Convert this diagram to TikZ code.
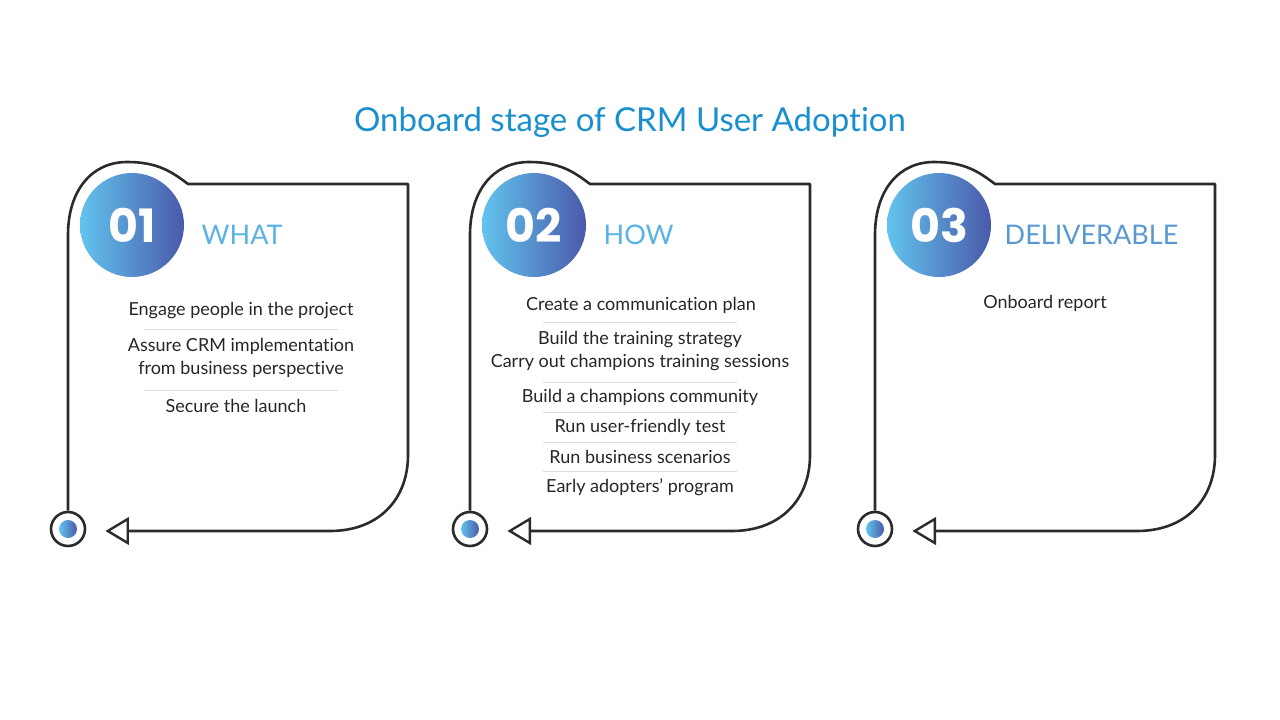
\documentclass[tikz,border=0pt]{standalone}
\usepackage{fontspec}
\setmainfont{Lato}[RawFeature={-liga;-dlig}]
\newfontfamily\numfont{Poppins}
\usetikzlibrary{shapes.geometric, positioning}
\definecolor{colorTitle}{HTML}{1A8FD0}
\definecolor{colorHead}{HTML}{5AB2E4}
\definecolor{colorLight}{HTML}{62C3EE}
\definecolor{colorDark}{HTML}{4A5AAA}
\definecolor{colorFrame}{HTML}{2B2B2B}
\definecolor{colorRule}{HTML}{DDDDDD}
\tikzset{
  frame/.style={draw=colorFrame, line width=2.6pt, line join=round},
  numdisc/.style={circle, minimum size=104pt, inner sep=0pt, left color=colorLight, right color=colorDark, text=white, font=\numfont\bfseries\fontsize{46}{46}\selectfont},
  head/.style={anchor=west, text=colorHead, font=\fontsize{27}{27}\selectfont},
  item/.style={align=center, text=black!85, font=\fontsize{18}{22.5}\selectfont},
  port/.style={circle, draw=colorFrame, line width=2.6pt, minimum size=34pt, inner sep=0pt},
  dot/.style={circle, minimum size=18pt, inner sep=0pt, left color=colorLight, right color=colorDark},
  tip/.style={isosceles triangle, shape border rotate=180, isosceles triangle stretches, draw=colorFrame, line width=2.4pt, fill=white, minimum width=24pt, minimum height=20pt, inner sep=0pt},
  sep/.style={draw=colorRule, line width=1pt}
}
\begin{document}
\begin{tikzpicture}[x=1pt, y=-1pt]
\useasboundingbox (0,0) rectangle (1280,720);
\node[text=colorTitle, font=\fontsize{33}{33}\selectfont] (title) at (630,122) {Onboard stage of CRM User Adoption};
% the three cards
\foreach \dx/\k in {0/1, 402/2, 807/3} {
  \begin{scope}[xshift=\dx pt]
    \node[port] (s\k) at (68,529) {};
    \node[dot] at (s\k) {};
    \node[tip] (t\k) at (121,531) {};
    \draw[frame] (s\k.north) -- (68,235)
      .. controls (68,190) and (92,162) .. (127,162)
      .. controls (158,162) and (172,172) .. (188,184)
      -- (408,184) -- (408,455)
      .. controls (408,500) and (378,531) .. (330,531) -- (t\k.east);
  \end{scope}
}
% numbers and headings
\node[numdisc] (n1) at (132,225) {01};
\node[head, right=14pt of n1, yshift=-10pt] (h1) {WHAT};
\node[numdisc] (n2) at (534,225) {02};
\node[head, right=14pt of n2, yshift=-10pt] (h2) {HOW};
\node[numdisc] (n3) at (939,225) {03};
\node[head, right=10pt of n3, yshift=-10pt, text=colorLight!60!colorDark] (h3) {DELIVERABLE};
% card 1 items
\node[item] (a1) at (241,311) {Engage people in the project};
\node[item] (a2) at (241,358) {Assure CRM implementation\\from business perspective};
\node[item] (a3) at (236,406) {Secure the launch};
\draw[sep] (144,329) -- (338,329);
\draw[sep] (144,390) -- (338,390);
% card 2 items
\node[item] (b1) at (641,305) {Create a communication plan};
\node[item] (b2) at (640,351) {Build the training strategy\\Carry out champions training sessions};
\node[item] (b3) at (640,397) {Build a champions community};
\node[item] (b4) at (640,427) {Run user-friendly test};
\node[item] (b5) at (640,457) {Run business scenarios};
\node[item] (b6) at (640,487) {Early adopters' program};
\foreach \y in {322,382,412,442,471}
  \draw[sep] (543,\y) -- (737,\y);
% card 3 items
\node[item] (c1) at (1045,303) {Onboard report};
\end{tikzpicture}
\end{document}
